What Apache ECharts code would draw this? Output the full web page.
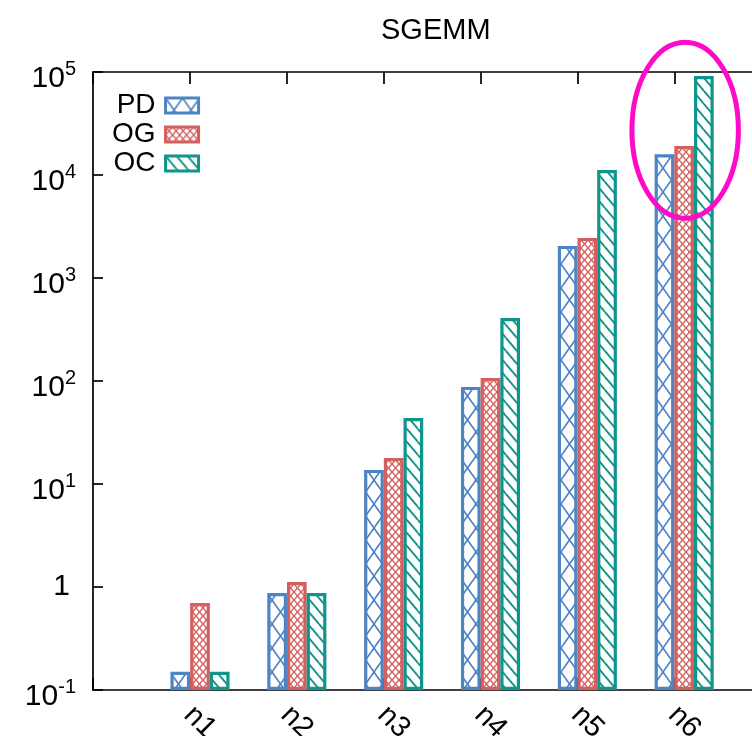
<!DOCTYPE html>
<html><head><meta charset="utf-8">
<script src="https://cdn.jsdelivr.net/npm/echarts@6/dist/echarts.min.js"></script>
<style>html,body{margin:0;padding:0;background:#fff}#c{width:752px;height:736px}</style>
</head><body><div id="c"></div>
<script>
const categories = ['n1', 'n2', 'n3', 'n4', 'n5', 'n6'];
const seriesNames = ['PD', 'OG', 'OC'];
const pdValues = [0.15, 0.875, 13.7, 87.6, 2050, 15900];
const ogValues = [0.70, 1.12, 17.9, 107, 2450, 19100];
const ocValues = [0.15, 0.875, 43.7, 409, 11200, 91500];
const yTickValues = [0.1, 1, 10, 100, 1000, 10000, 100000];
const titleText = 'SGEMM';
const highlightCategory = 'n6';
const highlightRange = [3800, 195000];

const colors = ['#4d84c4', '#d35f5f', '#0f958b'];
const FONT = '"Liberation Sans", Arial, Helvetica, sans-serif';
const valueLists = [pdValues, ogValues, ocValues];

function makePattern(color, w, h, lw, both) {
  const c = document.createElement('canvas');
  c.width = w; c.height = h;
  const g = c.getContext('2d');
  g.fillStyle = '#fff'; g.fillRect(0, 0, w, h);
  g.strokeStyle = color; g.lineWidth = lw;
  for (let dx = -w; dx <= w; dx += w) {
    for (let dy = -h; dy <= h; dy += h) {
      g.beginPath(); g.moveTo(dx, dy); g.lineTo(dx + w, dy + h); g.stroke();
      if (both) { g.beginPath(); g.moveTo(dx + w, dy); g.lineTo(dx, dy + h); g.stroke(); }
    }
  }
  return { image: c, repeat: 'repeat' };
}
const patterns = [
  makePattern(colors[0], 17, 24, 1.6, true),
  makePattern(colors[1], 7, 8, 1.4, true),
  makePattern(colors[2], 11, 13, 1.9, false)
];

const chart = echarts.init(document.getElementById('c'), null, { renderer: 'canvas' });

const axisLineStyle = { color: '#000', width: 1.7 };
const option = {
  animation: false,
  backgroundColor: '#fff',
  title: {
    text: titleText, left: 376, top: 11,
    textStyle: { fontSize: 29, fontWeight: 'normal', color: '#000', fontFamily: FONT }
  },
  grid: { left: 93, top: 72, right: -29, bottom: 46, containLabel: false, outerBoundsMode: 'none' },
  legend: {
    orient: 'vertical', left: 107, top: 86, align: 'right',
    itemWidth: 33, itemHeight: 15, itemGap: 0, icon: 'rect', selectedMode: false,
    itemStyle: { borderWidth: 3 },
    textStyle: { fontSize: 28, lineHeight: 29, color: '#000', fontFamily: FONT, padding: [0, 5, 0, 0] },
    data: seriesNames.map((n, k) => ({ name: n, itemStyle: { color: patterns[k], borderColor: colors[k], borderWidth: 3 } }))
  },
  xAxis: [
    {
      type: 'value', position: 'bottom', min: -1, max: 6.1, interval: 1,
      axisLine: { show: true, onZero: false, lineStyle: axisLineStyle },
      axisTick: { show: true, inside: true, length: 12, lineStyle: axisLineStyle },
      splitLine: { show: false },
      axisLabel: {
        rotate: -45, align: 'center', verticalAlign: 'middle', margin: 22,
        padding: [0, 0, 0, 28],
        fontSize: 29, color: '#000', fontFamily: FONT,
        formatter: v => (categories[Math.round(v)] !== undefined && Math.abs(v - Math.round(v)) < 1e-6) ? categories[Math.round(v)] : ''
      }
    },
    { type: 'value', position: 'bottom', min: -1.105, max: 6, show: false },
    {
      type: 'value', position: 'top', min: -1, max: 6.1, interval: 1,
      axisLine: { show: true, onZero: false, lineStyle: axisLineStyle },
      axisTick: { show: true, inside: true, length: 12, lineStyle: axisLineStyle },
      axisLabel: { show: false }, splitLine: { show: false }
    }
  ],
  yAxis: {
    type: 'log', logBase: 10, min: yTickValues[0], max: yTickValues[yTickValues.length - 1],
    startValue: yTickValues[0], splitNumber: yTickValues.length - 1,
    axisLine: { show: true, onZero: false, lineStyle: axisLineStyle },
    axisTick: { show: true, inside: true, length: 10, lineStyle: axisLineStyle },
    splitLine: { show: false },
    minorTick: { show: false },
    axisLabel: {
      margin: 17, align: 'right',
      formatter: v => {
        const e = Math.round(Math.log10(v));
        if (e === 0) return '{c|1}';
        return '{a|10}{b|' + e + '}';
      },
      rich: {
        a: { fontSize: 30, lineHeight: 43, verticalAlign: 'bottom', color: '#000', fontFamily: FONT },
        b: { fontSize: 20, lineHeight: 12, verticalAlign: 'top', padding: [9, 0, 0, 0], color: '#000', fontFamily: FONT },
        c: { fontSize: 30, lineHeight: 34, color: '#000', fontFamily: FONT, padding: [0, 6, 0, 0] }
      }
    }
  },
  series: seriesNames.map((name, k) => ({
    name, type: 'bar', xAxisIndex: 1, yAxisIndex: 0,
    data: valueLists[k].map((v, i) => [i, v]),
    barWidth: 19.7, barGap: '0%',
    itemStyle: { color: patterns[k], borderColor: colors[k], borderWidth: 3.2 },
    emphasis: { disabled: true }
  }))
};
chart.setOption(option);

// annotation ellipse around the highlighted category, placed through the axes' scales
const hi = categories.indexOf(highlightCategory);
const cx = chart.convertToPixel({ xAxisIndex: 1 }, hi);
const rx = chart.convertToPixel({ xAxisIndex: 1 }, hi + 0.55) - cx;
const yTop = chart.convertToPixel({ yAxisIndex: 0 }, highlightRange[1]);
const yBot = chart.convertToPixel({ yAxisIndex: 0 }, highlightRange[0]);
chart.setOption({
  graphic: [{
    type: 'ellipse', z: 100,
    shape: { cx: cx + 1, cy: (yTop + yBot) / 2, rx: rx, ry: (yBot - yTop) / 2 },
    style: { fill: 'none', stroke: '#ff0acb', lineWidth: 5 }
  }]
});
</script></body></html>
